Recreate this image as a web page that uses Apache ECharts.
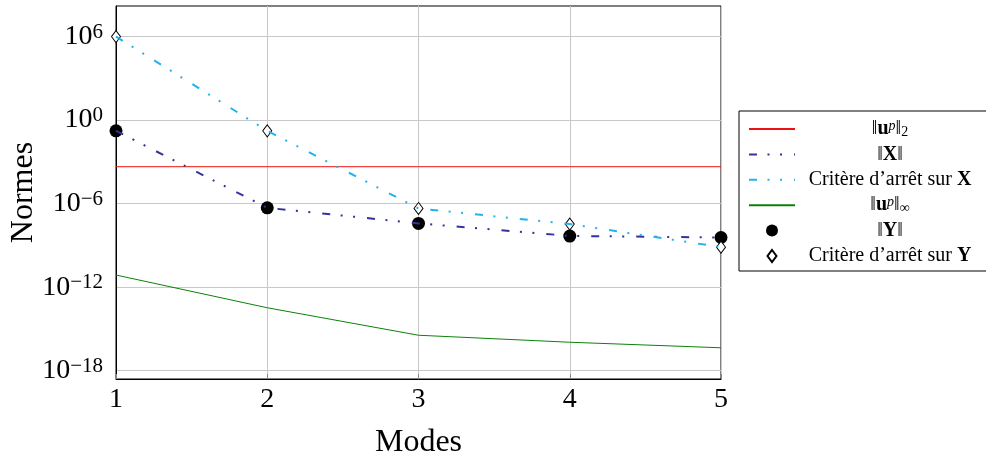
<!DOCTYPE html>
<html>
<head>
<meta charset="utf-8">
<script src="https://cdn.jsdelivr.net/npm/echarts@6/dist/echarts.min.js"></script>
<style>
  html, body { margin: 0; padding: 0; background: #fff; }
  #main { width: 986px; height: 461px; }
</style>
</head>
<body>
<div id="main"></div>
<script>
var modes = [1, 2, 3, 4, 5];
var normU2 = [4.5e-4, 4.5e-4, 4.5e-4, 4.5e-4, 4.5e-4];
var normX = [0.17, 5.0e-7, 3.8e-8, 4.8e-9, 3.7e-9];
var critX = [1e6, 0.17, 4.5e-7, 3.4e-8, 7.5e-10];
var normUInf = [7.4e-12, 3.3e-14, 3.5e-16, 1.1e-16, 4.4e-17];
var normY = [0.17, 5.0e-7, 3.8e-8, 4.7e-9, 3.7e-9];
var critY = [1e6, 0.17, 4.5e-7, 3.4e-8, 7.5e-10];
// decades that carry a label and a grid line
var yTickExps = [6, 0, -6, -12, -18];
var yRangeExps = [-18.6, 8.2];
var yStepExp = 0.6; // -18.6 is a multiple of it, so every 10th step is a 10^(6k)

var FONT = 'Liberation Serif';
var dashDotDot = [8, 10.5, 2, 10.5, 2, 12];

function pairs(ys) {
  return modes.map(function (m, i) { return [m, ys[i]]; });
}

// grid colour only on steps that land on 10^(6k): step index 1, 11, 21 ...
var yGridColors = [];
for (var k = 0; k < 10; k++) yGridColors.push(k === 1 ? '#c8c8c8' : 'rgba(0,0,0,0)');

var legendText = {
  u2: '{n|‖}{b|u}{sp|p}{n|‖}{sb|2}',
  X: '{n|‖}{b|X}{n|‖}',
  critX: '{n|Critère d’arrêt sur }{b|X}',
  uInf: '{n|‖}{b|u}{sp|p}{n|‖}{sb|∞}',
  Y: '{n|‖}{b|Y}{n|‖}',
  critY: '{n|Critère d’arrêt sur }{b|Y}'
};
var lineOnly = { color: 'rgba(0,0,0,0)', borderWidth: 0, opacity: 0 };

var chartDom = document.getElementById('main');
var myChart = echarts.init(chartDom);
var option;

option = {
  animation: false,
  grid: {
    left: 116, right: 265, top: 6, bottom: 82,
    outerBoundsMode: 'none',
    containLabel: false,
    show: true, borderColor: '#000', borderWidth: 1
  },
  xAxis: {
    type: 'value',
    min: 1, max: 5, interval: 1,
    name: 'Modes',
    nameLocation: 'middle',
    nameGap: 48,
    nameMoveOverlap: false,
    nameTextStyle: { fontFamily: FONT, fontSize: 32, color: '#000' },
    axisLine: { lineStyle: { color: '#000' } },
    axisTick: { inside: true, length: 5, lineStyle: { color: '#888' } },
    axisLabel: { fontFamily: FONT, fontSize: 28, color: '#000', margin: 7 },
    splitLine: { lineStyle: { color: '#c8c8c8' } }
  },
  yAxis: {
    type: 'log',
    logBase: 10,
    min: Math.pow(10, yRangeExps[0]),
    max: Math.pow(10, yRangeExps[1]),
    interval: yStepExp,
    name: 'Normes',
    nameLocation: 'middle',
    nameGap: 76,
    nameMoveOverlap: false,
    nameTextStyle: { fontFamily: FONT, fontSize: 32, color: '#000' },
    axisLine: { lineStyle: { color: '#000' } },
    axisTick: { show: false },
    minorTick: { show: false },
    splitLine: { show: true, lineStyle: { color: yGridColors, width: 1 } },
    axisLabel: {
      margin: 13,
      showMinLabel: true, showMaxLabel: true,
      formatter: function (v) {
        var e = Math.round(Math.log10(v) * 10) / 10;
        if (yTickExps.indexOf(e) < 0) return '';
        var s = e < 0 ? '−' + (-e) : '' + e;
        return '{b|10}{s|' + s + '}';
      },
      rich: {
        b: { fontFamily: FONT, fontSize: 28, lineHeight: 30, color: '#000' },
        s: { fontFamily: FONT, fontSize: 21, lineHeight: 23, verticalAlign: 'top', color: '#000' }
      }
    }
  },
  legend: {
    orient: 'vertical',
    left: 739, top: 111,
    padding: [8, 22, 5, 9],
    borderColor: '#000', borderWidth: 1, backgroundColor: '#fff',
    itemWidth: 46, itemHeight: 12, itemGap: 5.4,
    selectedMode: false,
    data: [
      { name: 'u2', itemStyle: lineOnly },
      { name: 'X', itemStyle: lineOnly },
      { name: 'critX', itemStyle: lineOnly },
      { name: 'uInf', itemStyle: lineOnly },
      'Y',
      { name: 'critY', icon: 'path://M0,-1L0.75,0L0,1L-0.75,0Z' }
    ],
    formatter: function (name) { return legendText[name]; },
    textStyle: {
      width: 180,
      fontFamily: FONT, fontSize: 20, lineHeight: 20, color: '#000',
      rich: {
        n: { fontFamily: FONT, fontSize: 20, lineHeight: 20, align: 'center' },
        b: { fontFamily: FONT, fontSize: 20, lineHeight: 20, fontWeight: 'bold', align: 'center' },
        sp: { fontFamily: FONT, fontSize: 14, lineHeight: 12, fontStyle: 'italic', verticalAlign: 'top', align: 'center' },
        sb: { fontFamily: FONT, fontSize: 14, lineHeight: 14, verticalAlign: 'bottom', align: 'center' }
      }
    }
  },
  series: [
    {
      name: 'u2', type: 'line', data: pairs(normU2),
      symbol: 'none', color: '#ee1111',
      lineStyle: { width: 1, color: '#ee1111' }
    },
    {
      name: 'X', type: 'line', data: pairs(normX),
      symbol: 'none', color: '#333399',
      lineStyle: { width: 2, color: '#333399', type: dashDotDot }
    },
    {
      name: 'critX', type: 'line', data: pairs(critX),
      symbol: 'none', color: '#22b2ec',
      lineStyle: { width: 2, color: '#22b2ec', type: dashDotDot }
    },
    {
      name: 'uInf', type: 'line', data: pairs(normUInf),
      symbol: 'none', color: '#0a820a',
      lineStyle: { width: 1, color: '#0a820a' }
    },
    {
      name: 'Y', type: 'scatter', data: pairs(normY),
      symbol: 'circle', symbolSize: 13,
      itemStyle: { color: '#000', opacity: 1 }
    },
    {
      name: 'critY', type: 'scatter', data: pairs(critY),
      symbol: 'diamond', symbolSize: [9, 12],
      itemStyle: { color: '#fff', borderColor: '#000', borderWidth: 1, opacity: 1 }
    }
  ]
};

if (chartDom && myChart) {
  myChart.setOption(option);
} else {
  console.error('Failed to initialize the chart');
}
</script>
</body>
</html>
